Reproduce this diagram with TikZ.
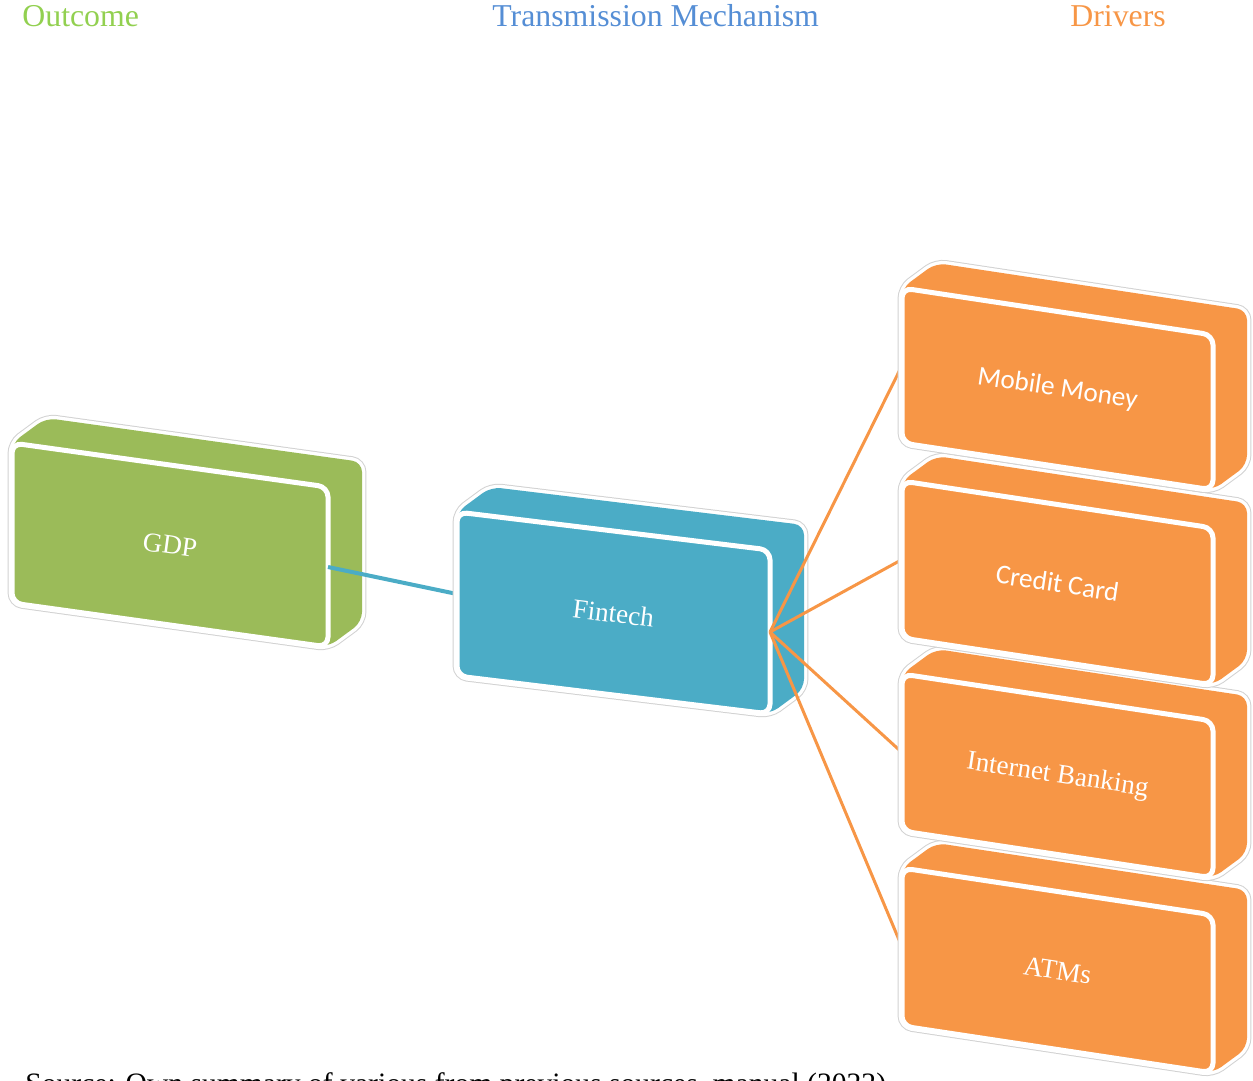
\documentclass[tikz,border=0pt]{standalone}
\usepackage{fontspec}
\setmainfont{Liberation Serif}
\newfontfamily\calibri{Carlito}
\usepackage{tikz}
\usetikzlibrary{positioning,calc}

\definecolor{outgreen}{HTML}{9BBB59}
\definecolor{midblue}{HTML}{4BACC6}
\definecolor{drvorange}{HTML}{F79646}
\definecolor{titlegreen}{HTML}{92D050}
\definecolor{titleblue}{HTML}{558ED5}

% corners of a slab: name, x, y, width, height, rise
\newcommand{\slabpts}[6]{%
  \coordinate (#1-nw) at (#2,#3);
  \coordinate (#1-ne) at ({#2+#4},{#3+#6});
  \coordinate (#1-se) at ({#2+#4},{#3+#6+#5});
  \coordinate (#1-sw) at (#2,{#3+#5});
  \coordinate (#1-w) at (#2,{#3+#5/2});
  \coordinate (#1-e) at ({#2+#4},{#3+#6+#5/2});
}
% slab itself: name, colour, tilt, label
\newcommand{\slab}[4]{%
  \draw[rim] (#1-sw) -- (#1-nw) -- ++(34,-25) -- ([shift={(34,-25)}]#1-ne)
    -- ([shift={(34,-25)}]#1-se) -- (#1-se) -- cycle;
  \fill[#2, rounded corners=5pt] (#1-sw) -- (#1-nw) -- ++(34,-25) -- ([shift={(34,-25)}]#1-ne)
    -- ([shift={(34,-25)}]#1-se) -- (#1-se) -- cycle;
  \filldraw[face, fill=#2] (#1-nw) -- (#1-ne) -- (#1-se) -- (#1-sw) -- cycle;
  \node[lbl, rotate=#3] (#1) at ($(#1-nw)!0.5!(#1-se)$) {#4};
}

\begin{document}
\begin{tikzpicture}[x=0.5pt, y=-0.5pt,
    rim/.style={draw=gray!35, line width=0.5pt, double=white, double distance=3.4pt, rounded corners=5pt},
    face/.style={draw=white, line width=2.5pt, rounded corners=5pt},
    lbl/.style={text=white, inner sep=0pt, font=\fontsize{13.6}{16}\selectfont},
    heading/.style={anchor=base west, inner sep=0pt, font=\fontsize{15.9}{18}\selectfont},
    link/.style={line width=1.5pt}]
  \useasboundingbox (0,0) rectangle (1253,1081);

  % Headings
  \node[heading, text=titlegreen] (hout) at (22,27) {Outcome};
  \node[heading, text=titleblue] (hmech) at (492,27) {Transmission Mechanism};
  \node[heading, text=drvorange] (hdrv) at (1070,27) {Drivers};

  \slabpts{gdp}{12}{443}{316}{160}{44}
  \slabpts{fintech}{457}{512}{313}{164}{38}
  \slabpts{mobile}{902}{288}{311}{155}{47}
  \slabpts{credit}{902}{481}{311}{157}{47}
  \slabpts{internet}{902}{674}{311}{157}{47}
  \slabpts{atms}{902}{868}{311}{158}{47}

  % Outcome
  \slab{gdp}{outgreen}{-7.9}{GDP}

  % Transmission mechanism
  \draw[link, midblue, line width=2pt] (gdp-e) -- (fintech-w);
  \slab{fintech}{midblue}{-6.9}{Fintech}

  % Drivers
  \foreach \drv in {mobile,credit,internet,atms}
    \draw[link, drvorange] (fintech-e) -- (\drv-w);
  \slab{atms}{drvorange}{-8.6}{ATMs}
  \slab{internet}{drvorange}{-8.6}{Internet Banking}
  \slab{credit}{drvorange}{-8.6}{\calibri Credit Card}
  \slab{mobile}{drvorange}{-8.6}{\calibri Mobile Money}

  % Source line (cut by the page edge)
  \begin{scope}
    \clip (0,0) rectangle (1253,1081);
    \node[anchor=base west, inner sep=0pt, font=\fontsize{14.8}{17}\selectfont] (src) at (25,1093)
      {Source: Own summary of various from previous sources, manual (2022)};
  \end{scope}
\end{tikzpicture}
\end{document}
